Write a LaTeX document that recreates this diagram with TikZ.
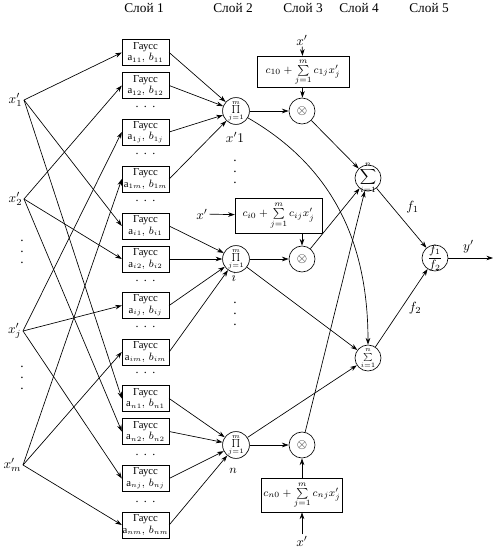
\documentclass[tikz,border=0pt]{standalone}
\usepackage{amsmath}
\usepackage{amssymb}
\usepackage{fontspec}
\setmainfont{Liberation Serif}
\usepackage{tikz}
\usetikzlibrary{arrows.meta}
\def\gaussX{145.5}
\def\prodX{236}
\def\multX{302}
\newcommand{\gauss}[3]{%
% #1 = node, #2 = y, #3 = index
\node[gbox] (#1) at (\gaussX,#2) {Гаусс\\$\mathrm{a}_{\scriptscriptstyle #3},\,b_{\scriptscriptstyle #3}$};
}
\newcommand{\hdotsn}[2]{%
% #1 = node, #2 = y
\node[dotn] (#1) at (\gaussX,#2) {.\hspace{4pt}.\hspace{4pt}.};
}
\newcommand{\vdotsn}[3]{%
% #1 = node, #2 = x, #3 = y
\node[vdotn] (#1) at (#2,#3) {.\\.\\.};
}
\newcommand{\prodsym}{\fontsize{6}{6}\selectfont$\prod\limits_{\scriptscriptstyle j=1}^{\scriptscriptstyle m}$}

\begin{document}
\begin{tikzpicture}[
    x=0.75pt, y=-0.75pt,
    line width=0.5pt,
    >={Stealth[length=5pt,width=3.4pt]},
    gbox/.style={draw, minimum width=35pt, minimum height=19.5pt, inner sep=0pt,
        align=center, font=\fontsize{8}{8.6}\selectfont},
    opnode/.style={circle, draw, minimum size=19.5pt, inner sep=0pt},
    sumbox/.style={draw, inner sep=1.5pt, font=\footnotesize},
    dotn/.style={inner sep=0pt, font=\small},
    vdotn/.style={inner sep=0pt, align=center, font=\fontsize{10}{8}\selectfont},
    lbl/.style={inner sep=1pt}
]
\useasboundingbox (0,0) rectangle (495,550);

% layer titles
\node (h1) at (144,8) {Слой 1};
\node (h2) at (233,8) {Слой 2};
\node (h3) at (303,8) {Слой 3};
\node (h4) at (359,8) {Слой 4};
\node (h5) at (429,8) {Слой 5};

% inputs
\node[lbl, anchor=east] (x1) at (24,100) {$x'_1$};
\node[lbl, anchor=east] (x2) at (24,199) {$x'_2$};
\node[lbl, anchor=east] (xj) at (23,331) {$x'_j$};
\node[lbl, anchor=east] (xm) at (23,465) {$x'_m$};
\vdotsn{v1}{22}{252}
\vdotsn{v2}{22}{378}

% layer 1
\gauss{g1}{52.5}{11}
\gauss{g2}{85.5}{12}
\gauss{g3}{132}{1j}
\gauss{g4}{179}{1m}
\gauss{g5}{226}{i1}
\gauss{g6}{259}{i2}
\gauss{g7}{305.5}{ij}
\gauss{g8}{352}{im}
\gauss{g9}{398.5}{n1}
\gauss{g10}{431.5}{n2}
\gauss{g11}{478.5}{nj}
\gauss{g12}{525}{nm}
\hdotsn{d1}{107}
\hdotsn{d2}{154}
\hdotsn{d3}{201}
\hdotsn{d4}{281}
\hdotsn{d5}{327}
\hdotsn{d6}{373}
\hdotsn{d7}{455}
\hdotsn{d8}{502}

\draw[->] (x1.east) -- (g1.west);
\draw[->] (x1.east) -- (g5.west);
\draw[->] (x1.east) -- (g9.west);
\draw[->] (x2.east) -- (g2.west);
\draw[->] (x2.east) -- (g6.west);
\draw[->] (x2.east) -- (g10.west);
\draw[->] (xj.east) -- (g3.west);
\draw[->] (xj.east) -- (g7.west);
\draw[->] (xj.east) -- (g11.west);
\draw[->] (xm.east) -- (g4.west);
\draw[->] (xm.east) -- (g8.west);
\draw[->] (xm.east) -- (g12.west);

% layer 2
\node[opnode] (p1) at (\prodX,111) {\prodsym};
\node[opnode] (pi) at (\prodX,259) {\prodsym};
\node[opnode] (pn) at (\prodX,445) {\prodsym};
\node (lp1) at (235,137) {$x'1$};
\node (lpi) at (234,277) {$i$};
\node[font=\small] (lpn) at (233,471) {$n$};
\vdotsn{v3}{235}{172}
\vdotsn{v4}{235}{314}

\foreach \g in {g1,g2,g3,g4} \draw[->] (\g.east) -- (p1);
\foreach \g in {g5,g6,g7,g8} \draw[->] (\g.east) -- (pi);
\foreach \g in {g9,g10,g11,g12} \draw[->] (\g.east) -- (pn);

% layer 3
\node[opnode] (m1) at (\multX,111) {$\otimes$};
\node[opnode] (mi) at (\multX,259) {$\otimes$};
\node[opnode] (mn) at (\multX,445) {$\otimes$};
\node[sumbox, minimum width=69pt, minimum height=22pt] (s1) at (303,72)
    {$c_{10}+\sum\limits_{j=1}^{m}c_{1j}x'_j$};
\node[sumbox, minimum width=65pt, minimum height=26pt] (si) at (278.5,215.5)
    {$c_{i0}+\sum\limits_{j=1}^{m}c_{ij}x'_j$};
\node[sumbox, minimum width=60pt, minimum height=25.5pt] (sn) at (302,495)
    {$c_{n0}+\sum\limits_{j=1}^{m}c_{nj}x'_j$};
\node[lbl] (xa) at (302,40) {$x'$};
\node[lbl] (xb) at (202,214) {$x'$};
\node[lbl] (xc) at (302,541) {$x'$};

\draw[->] (xa) -- (s1);
\draw[->] (xb) -- (si);
\draw[->] (xc) -- (sn);
\draw[->] (s1) -- (m1);
\draw[->] (si.south -| mi) -- (mi);
\draw[->] (sn) -- (mn);
\draw[->] (p1) -- (m1);
\draw[->] (pi) -- (mi);
\draw[->] (pn) -- (mn);

% layer 4
\node[opnode, label={center:{\footnotesize$\displaystyle\sum_{i=1}^{n}$}}] (st) at (368,178) {};
\node[opnode] (sb) at (368,358) {\fontsize{6}{6}\selectfont$\sum\limits_{\scriptscriptstyle i=1}^{\scriptscriptstyle n}$};
\draw[->] (m1) -- (st);
\draw[->] (mi) -- (st);
\draw[->] (mn) -- (st);
\draw[->] (p1) to[out=-30,in=90] (sb);
\draw[->] (pi) -- (sb);
\draw[->] (pn) -- (sb);

% layer 5
\node[opnode, label={center:{\small$\dfrac{f_1}{f_2}$}}] (fr) at (435,258) {};
\coordinate (yout) at (493,258);
\draw[->] (st) -- node[midway, anchor=south west] (lf1) {$f_1$} (fr);
\draw[->] (sb) -- node[midway, anchor=west, xshift=2pt] (lf2) {$f_2$} (fr);
\draw[->] (fr) -- node[pos=0.45, above] (ly) {$y'$} (yout);
\end{tikzpicture}
\end{document}
